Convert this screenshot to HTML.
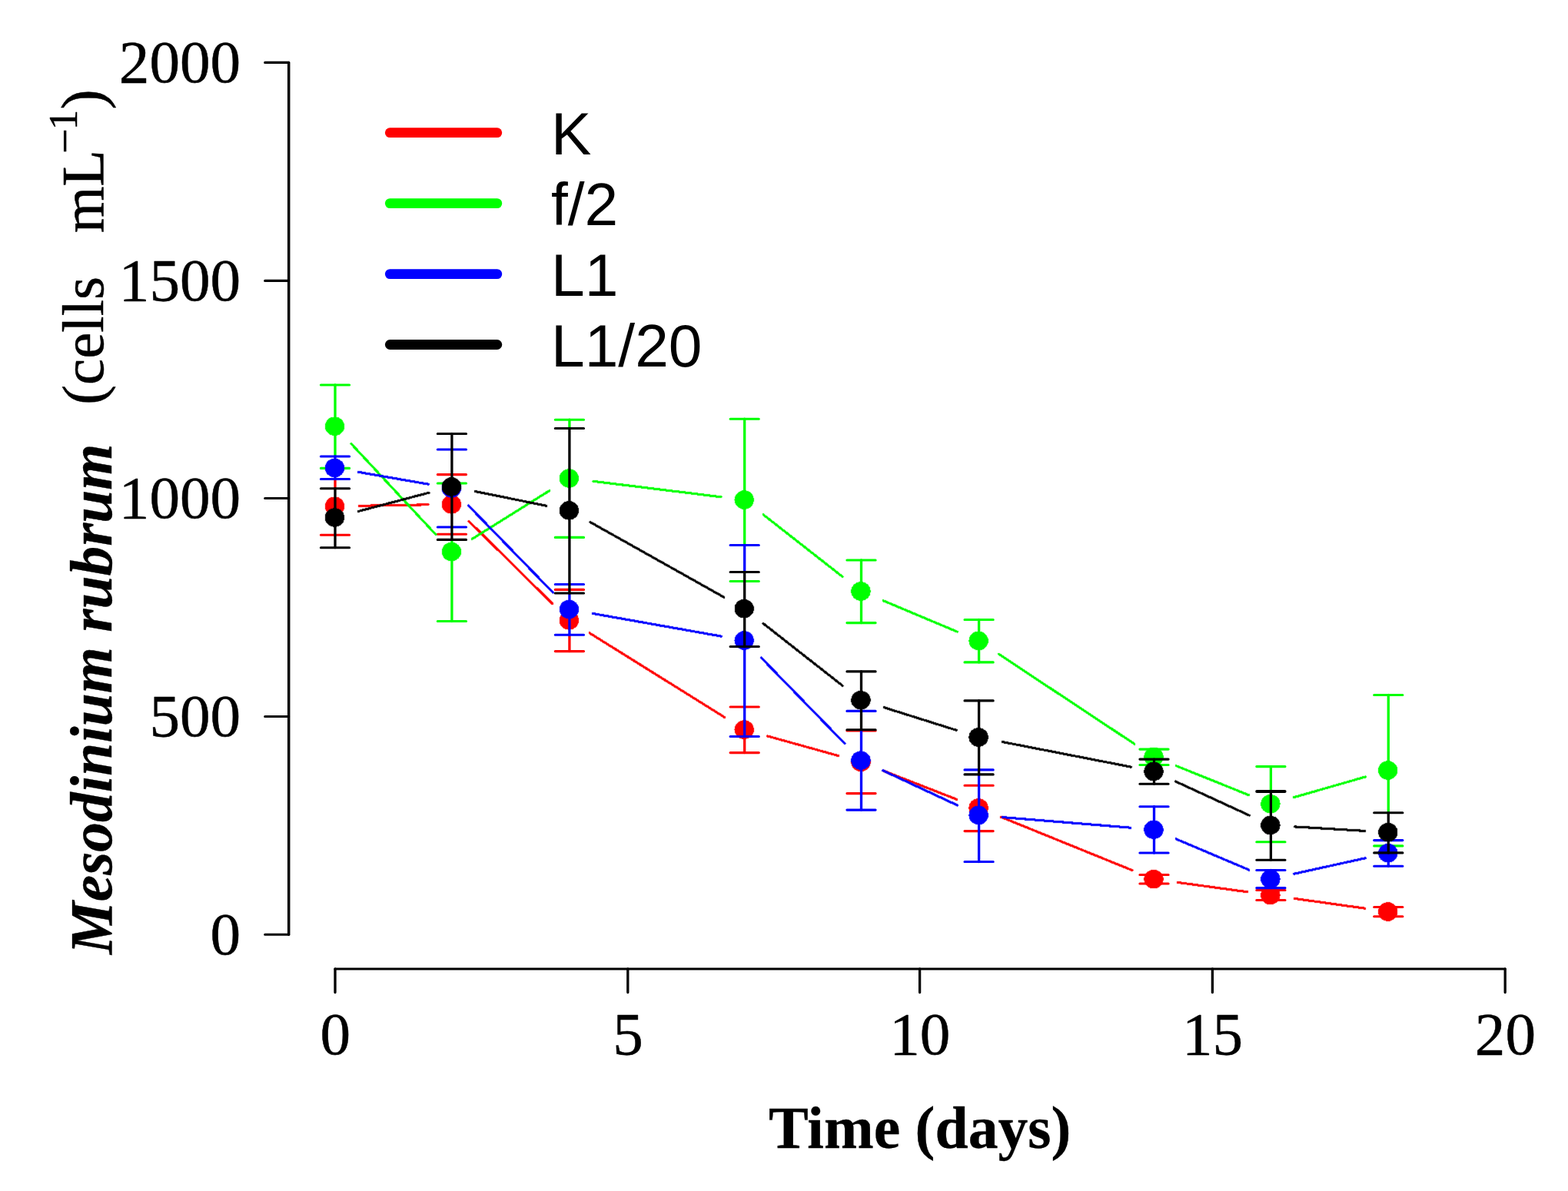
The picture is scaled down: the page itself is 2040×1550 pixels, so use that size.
<!DOCTYPE html>
<html lang="en"><head><meta charset="utf-8"><title>Mesodinium rubrum growth</title>
<style>
html,body{margin:0;padding:0;background:#fff;}
body{width:2040px;height:1550px;overflow:hidden;}
svg{display:block;}
.ser{font-family:"Liberation Serif","DejaVu Serif",serif;}
.san{font-family:"Liberation Sans","DejaVu Sans",sans-serif;}
.ln{stroke-linecap:round;stroke-linejoin:round;}
.jag{shape-rendering:crispEdges;filter:url(#soft);}
</style></head><body>
<svg width="2040" height="1550" viewBox="0 0 2040 1550">
<rect x="0" y="0" width="2040" height="1550" fill="#ffffff"/>
<defs><filter id="soft" x="-10%" y="-10%" width="120%" height="120%" color-interpolation-filters="sRGB"><feConvolveMatrix order="3" divisor="1" bias="0" edgeMode="none" preserveAlpha="false" kernelMatrix="0.0144 0.0912 0.0144 0.0912 0.5776 0.0912 0.0144 0.0912 0.0144"/></filter></defs>
<g>
<g class="ln" stroke="#FF0000" fill="#FF0000">
<path class="jag" fill="none" stroke-width="3.1" d="M467.1 658.3L557.1 656.8M610.0 678.3L718.9 785.8M767.2 823.9L942.5 933.4M998.7 958.0L1090.8 983.6M1149.5 1003.2L1244.9 1040.4M1302.4 1063.3L1473.0 1132.6M1532.3 1148.4L1622.9 1160.8M1684.2 1169.4L1775.8 1182.2"/>
<ellipse class="jag" cx="435.50" cy="658.80" rx="12.7" ry="12.3" stroke="none"/>
<ellipse class="jag" cx="587.40" cy="656.30" rx="12.7" ry="12.3" stroke="none"/>
<ellipse class="jag" cx="740.40" cy="807.30" rx="12.7" ry="12.3" stroke="none"/>
<ellipse class="jag" cx="968.20" cy="949.60" rx="12.7" ry="12.3" stroke="none"/>
<ellipse class="jag" cx="1120.00" cy="991.80" rx="12.7" ry="12.3" stroke="none"/>
<ellipse class="jag" cx="1273.10" cy="1051.50" rx="12.7" ry="12.3" stroke="none"/>
<ellipse class="jag" cx="1501.00" cy="1144.10" rx="12.7" ry="12.3" stroke="none"/>
<ellipse class="jag" cx="1652.90" cy="1165.00" rx="12.7" ry="12.3" stroke="none"/>
<ellipse class="jag" cx="1805.80" cy="1186.50" rx="12.7" ry="12.3" stroke="none"/>
<path fill="none" stroke-width="3.3" d="M436.0 623.5V635.8M740.9 826.2V847.6M968.7 958.5V979.6M1501.5 1138.5V1150.0M1653.4 1158.5V1171.5M1806.3 1180.5V1192.8"/>
<path fill="none" stroke-width="3.1" d="M417.4 696.3H454.6M569.3 617.6H606.5M569.3 695.3H606.5M722.3 767.4H759.5M722.3 847.6H759.5M950.1 920.0H987.3M950.1 979.6H987.3M1101.9 951.0H1139.1M1101.9 1032.6H1139.1M1255.0 1022.3H1292.2M1255.0 1081.6H1292.2M1482.9 1138.5H1520.1M1482.9 1150.0H1520.1M1634.8 1158.5H1672.0M1634.8 1171.5H1672.0M1787.7 1180.5H1824.9M1787.7 1192.8H1824.9"/>
</g>
<g class="ln" stroke="#00FF00" fill="#00FF00">
<path class="jag" fill="none" stroke-width="3.1" d="M457.1 577.7L566.9 695.6M614.3 701.4L714.7 638.7M771.8 626.3L938.1 646.8M993.1 669.8L1096.2 750.6M1149.1 781.7L1245.2 822.1M1299.5 851.3L1475.8 968.1M1530.3 996.7L1624.8 1034.8M1683.3 1037.7L1776.7 1010.9"/>
<ellipse class="jag" cx="435.50" cy="554.80" rx="12.7" ry="12.3" stroke="none"/>
<ellipse class="jag" cx="587.40" cy="718.00" rx="12.7" ry="12.3" stroke="none"/>
<ellipse class="jag" cx="740.40" cy="622.50" rx="12.7" ry="12.3" stroke="none"/>
<ellipse class="jag" cx="968.20" cy="650.50" rx="12.7" ry="12.3" stroke="none"/>
<ellipse class="jag" cx="1120.00" cy="769.50" rx="12.7" ry="12.3" stroke="none"/>
<ellipse class="jag" cx="1273.10" cy="834.00" rx="12.7" ry="12.3" stroke="none"/>
<ellipse class="jag" cx="1501.00" cy="985.00" rx="12.7" ry="12.3" stroke="none"/>
<ellipse class="jag" cx="1652.90" cy="1046.30" rx="12.7" ry="12.3" stroke="none"/>
<ellipse class="jag" cx="1805.80" cy="1002.50" rx="12.7" ry="12.3" stroke="none"/>
<path fill="none" stroke-width="3.3" d="M436.0 501.0V594.0M587.9 702.4V808.5M740.9 546.2V557.5M968.7 545.2V709.5M1120.5 729.0V810.6M1273.6 806.5V861.9M1501.5 975.1V988.1M1653.4 997.6V1030.0M1806.3 904.5V1057.8"/>
<path fill="none" stroke-width="3.1" d="M417.4 501.0H454.6M417.4 609.4H454.6M569.3 629.0H606.5M569.3 808.5H606.5M722.3 546.2H759.5M722.3 699.4H759.5M950.1 545.2H987.3M950.1 756.5H987.3M1101.9 729.0H1139.1M1101.9 810.6H1139.1M1255.0 806.5H1292.2M1255.0 861.9H1292.2M1482.9 975.1H1520.1M1482.9 995.5H1520.1M1634.8 997.6H1672.0M1634.8 1095.7H1672.0M1787.7 904.5H1824.9M1787.7 1100.9H1824.9"/>
</g>
<g class="ln" stroke="#0000FF" fill="#0000FF">
<path class="jag" fill="none" stroke-width="3.1" d="M466.6 614.4L557.6 630.2M609.5 658.0L719.4 771.1M771.5 798.5L938.4 828.1M990.3 855.9L1099.0 967.7M1148.7 1002.8L1245.7 1048.1M1304.6 1063.6L1470.8 1077.2M1530.1 1091.9L1625.0 1132.1M1683.8 1137.2L1776.2 1116.8"/>
<ellipse class="jag" cx="435.50" cy="609.00" rx="12.7" ry="12.3" stroke="none"/>
<ellipse class="jag" cx="587.40" cy="635.50" rx="12.7" ry="12.3" stroke="none"/>
<ellipse class="jag" cx="740.40" cy="793.00" rx="12.7" ry="12.3" stroke="none"/>
<ellipse class="jag" cx="968.20" cy="833.50" rx="12.7" ry="12.3" stroke="none"/>
<ellipse class="jag" cx="1120.00" cy="989.60" rx="12.7" ry="12.3" stroke="none"/>
<ellipse class="jag" cx="1273.10" cy="1061.00" rx="12.7" ry="12.3" stroke="none"/>
<ellipse class="jag" cx="1501.00" cy="1079.70" rx="12.7" ry="12.3" stroke="none"/>
<ellipse class="jag" cx="1652.90" cy="1144.00" rx="12.7" ry="12.3" stroke="none"/>
<ellipse class="jag" cx="1805.80" cy="1110.20" rx="12.7" ry="12.3" stroke="none"/>
<path fill="none" stroke-width="3.3" d="M436.0 594.0V623.5M740.9 772.0V826.2M968.7 709.5V744.5M968.7 841.5V958.5M1120.5 949.7V1054.1M1273.6 1007.9V1121.5M1501.5 1049.7V1110.0M1653.4 1132.5V1155.6M1806.3 1109.9V1127.3"/>
<path fill="none" stroke-width="3.1" d="M417.4 594.0H454.6M417.4 623.5H454.6M569.3 585.0H606.5M569.3 686.0H606.5M722.3 760.5H759.5M722.3 826.2H759.5M950.1 709.5H987.3M950.1 958.5H987.3M1101.9 925.4H1139.1M1101.9 1054.1H1139.1M1255.0 1001.9H1292.2M1255.0 1121.5H1292.2M1482.9 1049.7H1520.1M1482.9 1110.0H1520.1M1634.8 1132.5H1672.0M1634.8 1155.6H1672.0M1787.7 1093.6H1824.9M1787.7 1127.3H1824.9"/>
</g>
<g class="ln" stroke="#000000" fill="#000000">
<path class="jag" fill="none" stroke-width="3.1" d="M466.1 665.5L558.1 641.2M618.4 639.6L710.7 658.2M768.0 679.6L941.8 777.2M993.1 811.5L1096.2 892.4M1150.2 920.7L1244.2 950.3M1304.1 965.5L1471.3 998.1M1529.7 1017.1L1625.4 1061.2M1684.4 1075.9L1775.6 1081.4"/>
<ellipse class="jag" cx="435.50" cy="673.50" rx="12.7" ry="12.3" stroke="none"/>
<ellipse class="jag" cx="587.40" cy="633.40" rx="12.7" ry="12.3" stroke="none"/>
<ellipse class="jag" cx="740.40" cy="664.30" rx="12.7" ry="12.3" stroke="none"/>
<ellipse class="jag" cx="968.20" cy="792.20" rx="12.7" ry="12.3" stroke="none"/>
<ellipse class="jag" cx="1120.00" cy="911.30" rx="12.7" ry="12.3" stroke="none"/>
<ellipse class="jag" cx="1273.10" cy="959.50" rx="12.7" ry="12.3" stroke="none"/>
<ellipse class="jag" cx="1501.00" cy="1004.00" rx="12.7" ry="12.3" stroke="none"/>
<ellipse class="jag" cx="1652.90" cy="1074.00" rx="12.7" ry="12.3" stroke="none"/>
<ellipse class="jag" cx="1805.80" cy="1083.20" rx="12.7" ry="12.3" stroke="none"/>
<path fill="none" stroke-width="3.3" d="M436.0 635.8V712.7M587.9 564.5V702.4M740.9 557.5V772.0M968.7 744.5V841.5M1120.5 873.9V949.7M1273.6 911.9V1007.9M1501.5 988.1V1020.3M1653.4 1030.0V1119.2M1806.3 1057.8V1109.9"/>
<path fill="none" stroke-width="3.1" d="M417.4 635.8H454.6M417.4 712.7H454.6M569.3 564.5H606.5M569.3 702.4H606.5M722.3 557.5H759.5M722.3 772.0H759.5M950.1 744.5H987.3M950.1 841.5H987.3M1101.9 873.9H1139.1M1101.9 949.7H1139.1M1255.0 911.9H1292.2M1255.0 1007.9H1292.2M1482.9 988.1H1520.1M1482.9 1020.3H1520.1M1634.8 1119.2H1672.0M1787.7 1057.8H1824.9M1787.7 1109.9H1824.9"/>
<path fill="none" stroke-width="4" d="M1635.2 1030.0H1671.6"/>
</g>
<g class="ln" stroke="#000" fill="none">
<path stroke-width="3.5" d="M375.7 81.4V1216.3"/>
<path stroke-width="3.1" d="M375.6 81.40H344.7M375.6 365.40H344.7M375.6 648.45H344.7M375.6 932.55H344.7M375.6 1216.30H344.7"/>
<path stroke-width="3.2" d="M436.0 1261.0H1958.2"/>
<path stroke-width="3.3" d="M436.0 1261.0V1291.5M816.8 1261.0V1291.5M1196.6 1261.0V1291.5M1577.4 1261.0V1291.5M1958.2 1261.0V1291.5"/>
</g>
<path d="M507.3 172.7H646.8" fill="none" stroke="#FF0000" stroke-width="12.8" stroke-linecap="round"/>
<path d="M507.3 264.6H646.8" fill="none" stroke="#00FF00" stroke-width="12.8" stroke-linecap="round"/>
<path d="M507.3 356.6H646.8" fill="none" stroke="#0000FF" stroke-width="12.8" stroke-linecap="round"/>
<path d="M507.3 448.5H646.8" fill="none" stroke="#000000" stroke-width="12.8" stroke-linecap="round"/>
</g>
<g class="ser" font-size="79.2" fill="#000" stroke="#000" stroke-width="0.5" stroke-linejoin="round">
<text x="313.2" y="106.8" text-anchor="end">2000</text>
<text x="313.2" y="390.8" text-anchor="end">1500</text>
<text x="313.2" y="673.9" text-anchor="end">1000</text>
<text x="313.2" y="957.9" text-anchor="end">500</text>
<text x="313.2" y="1241.7" text-anchor="end">0</text>
<text x="436.2" y="1372.2" text-anchor="middle">0</text>
<text x="817.0" y="1372.2" text-anchor="middle">5</text>
<text x="1196.8" y="1372.2" text-anchor="middle">10</text>
<text x="1577.6" y="1372.2" text-anchor="middle">15</text>
<text x="1958.4" y="1372.2" text-anchor="middle">20</text>
<text x="1196.7" y="1494.1" text-anchor="middle" font-weight="bold" font-size="77.7" stroke-width="0.35">Time (days)</text>
<text transform="rotate(-90)" font-size="77"><tspan x="-1242" y="145.3" font-weight="bold" font-style="italic" font-size="77.4" stroke-width="0.35">Mesodinium rubrum </tspan><tspan x="-526.7" y="134">(cells </tspan><tspan x="-303.3" y="134" font-size="78">mL</tspan><tspan x="-200.0" y="104.3" font-size="58">−</tspan><tspan x="-169.3" y="99.6" font-size="53">1</tspan><tspan x="-142.5" y="134" font-size="78.5">)</tspan></text>
</g>
<g class="san" font-size="78.5" fill="#000">
<text x="717" y="201.4">K</text>
<text x="717" y="293.3">f/2</text>
<text x="717" y="385.3">L1</text>
<text x="717" y="476.7">L1/20</text>
</g>
</svg>
</body></html>
